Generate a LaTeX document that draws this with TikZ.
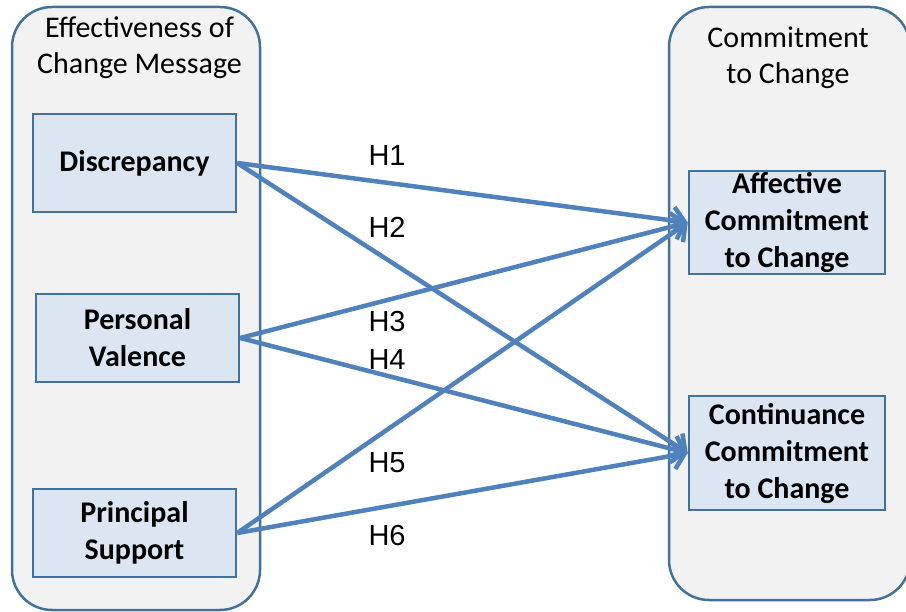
\documentclass[tikz,border=0pt]{standalone}
\usepackage{fontspec}
\setmainfont{Carlito}
\newfontfamily\hypfont{Liberation Sans}
\usetikzlibrary{arrows.meta}
\definecolor{fblue}{HTML}{41719C}
\definecolor{lgray}{HTML}{F2F2F2}
\definecolor{lblue}{HTML}{DCE6F2}
\definecolor{ablue}{HTML}{4F81BD}

\begin{document}
\begin{tikzpicture}[
  x=1pt, y=-1pt,
  frame/.style={draw=fblue, fill=lgray, line width=2.5pt, rounded corners=40pt},
  box/.style={draw=fblue, fill=lblue, line width=2.5pt, inner sep=0pt, align=center,
              font=\bfseries\fontsize{30}{37}\selectfont},
  hdr/.style={font=\fontsize{30}{36}\selectfont, align=center, anchor=base},
  hyp/.style={font=\hypfont\fontsize{29}{34}\selectfont, anchor=base west},
  ar/.style={-{Straight Barb[length=12pt, width=27pt]}, line width=4.5pt, ablue},
]
\clip (0,0) rectangle (906,612);

% Group frames
\node[frame, minimum width=248, minimum height=603] (lf) at (136,308.5) {};
\node[frame, minimum width=241, minimum height=593] (rf) at (789.5,303.5) {};
\node[hdr] (lh) at (139.5,74) {Effectiveness of\\Change Message};
\node[hdr] (rh) at (788,84) {Commitment\\to Change};

% Predictors
\node[box, minimum width=203, minimum height=98] (d1) at (134.5,163) {Discrepancy};
\node[box, minimum width=203, minimum height=88] (d2) at (137.5,338) {Personal\\Valence};
\node[box, minimum width=203, minimum height=88] (d3) at (134.5,533) {Principal\\Support};

% Outcomes
\node[box, minimum width=196, minimum height=103] (c1) at (787,222.5) {Affective\\Commitment\\to Change};
\node[box, minimum width=196, minimum height=114] (c2) at (787,453) {Continuance\\Commitment\\to Change};

% Hypotheses
\draw[ar] (d1.east) -- (c1.west);
\draw[ar] (d1.east) -- (c2.west);
\draw[ar] (d2.east) -- (c1.west);
\draw[ar] (d2.east) -- (c2.west);
\draw[ar] (d3.east) -- (c1.west);
\draw[ar] (d3.east) -- (c2.west);
\node[hyp] (h1) at (365,166) {H1};
\node[hyp] (h2) at (365,238) {H2};
\node[hyp] (h3) at (365,332) {H3};
\node[hyp] (h4) at (365,370) {H4};
\node[hyp] (h5) at (365,473) {H5};
\node[hyp] (h6) at (365,545) {H6};
\end{tikzpicture}
\end{document}
